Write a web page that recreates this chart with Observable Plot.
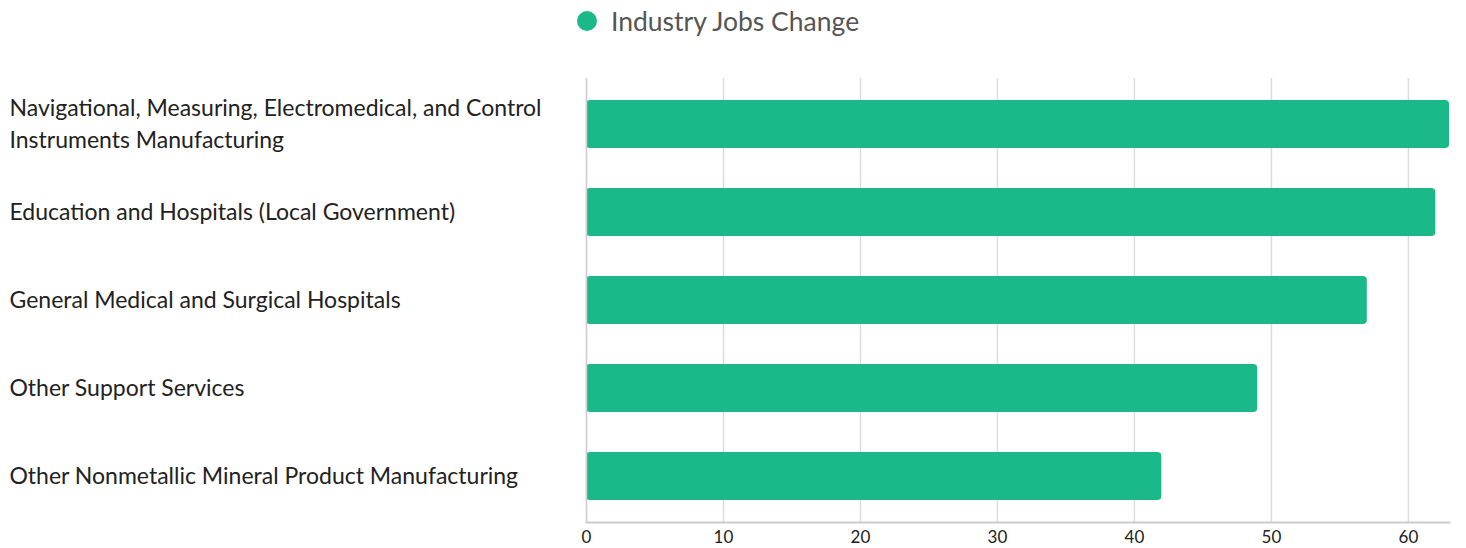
<!DOCTYPE html>
<html>
<head>
<meta charset="utf-8">
<script src="https://cdn.jsdelivr.net/npm/d3@7"></script>
<script src="https://cdn.jsdelivr.net/npm/@observablehq/plot@0.6"></script>
<style>
  html, body { margin: 0; padding: 0; background: #fff; }
  body { width: 1466px; height: 548px; overflow: hidden; font-family: Lato, "Noto Sans", sans-serif; }
  #legend { height: 48px; position: relative; }
  #legend .dot { position: absolute; left: 577px; top: 11px; width: 20px; height: 20px; border-radius: 50%; background: #1bb98a; }
  #legend .lab { position: absolute; left: 611px; top: 5px; font-size: 26.5px; line-height: 32px; color: #555; white-space: nowrap; }
</style>
</head>
<body>
<div id="legend"><span class="dot"></span><span class="lab">Industry Jobs Change</span></div>
<div id="chart"></div>
<script>
const industries = [
  "Navigational, Measuring, Electromedical, and Control Instruments Manufacturing",
  "Education and Hospitals (Local Government)",
  "General Medical and Surgical Hospitals",
  "Other Support Services",
  "Other Nonmetallic Mineral Product Manufacturing"
];
const displayLabels = [
  "Navigational, Measuring, Electromedical, and Control\nInstruments Manufacturing",
  "Education and Hospitals (Local Government)",
  "General Medical and Surgical Hospitals",
  "Other Support Services",
  "Other Nonmetallic Mineral Product Manufacturing"
];
const jobsChange = [63, 62, 57, 49, 42];
const xTicks = [0, 10, 20, 30, 40, 50, 60];

const data = industries.map((d, i) => ({industry: d, value: jobsChange[i]}));
const labelOf = new Map(industries.map((d, i) => [d, displayLabels[i]]));

const plot = Plot.plot({
  width: 1466,
  height: 500,
  marginLeft: 586,
  marginRight: 17,
  marginTop: 30,
  marginBottom: 26,
  style: {fontFamily: "Lato, 'Noto Sans', sans-serif", background: "#fff"},
  x: {domain: [0, 63], ticks: xTicks},
  y: {domain: industries, paddingInner: 0.45, paddingOuter: 0.225},
  marks: [
    Plot.gridX(xTicks, {stroke: "#dddddd", strokeOpacity: 1, strokeWidth: 1.5}),
    Plot.barX(data, {x: "value", y: "industry", fill: "#1bb98a", rx: 4}),
    Plot.ruleX([0], {stroke: "#d0d0d0", strokeWidth: 1.5}),
    Plot.frame({anchor: "bottom", stroke: "#cccccc", strokeWidth: 2}),
    Plot.axisX(xTicks, {tickSize: 0, tickPadding: 8, fontSize: 17, fill: "#222", label: null}),
    Plot.axisY({tickSize: 0, textAnchor: "start", dx: -568, dy: -3, fontSize: 23, fill: "#222", lineHeight: 1.4, label: null, tickFormat: d => labelOf.get(d)})
  ]
});
document.getElementById("chart").appendChild(plot);
</script>
</body>
</html>
